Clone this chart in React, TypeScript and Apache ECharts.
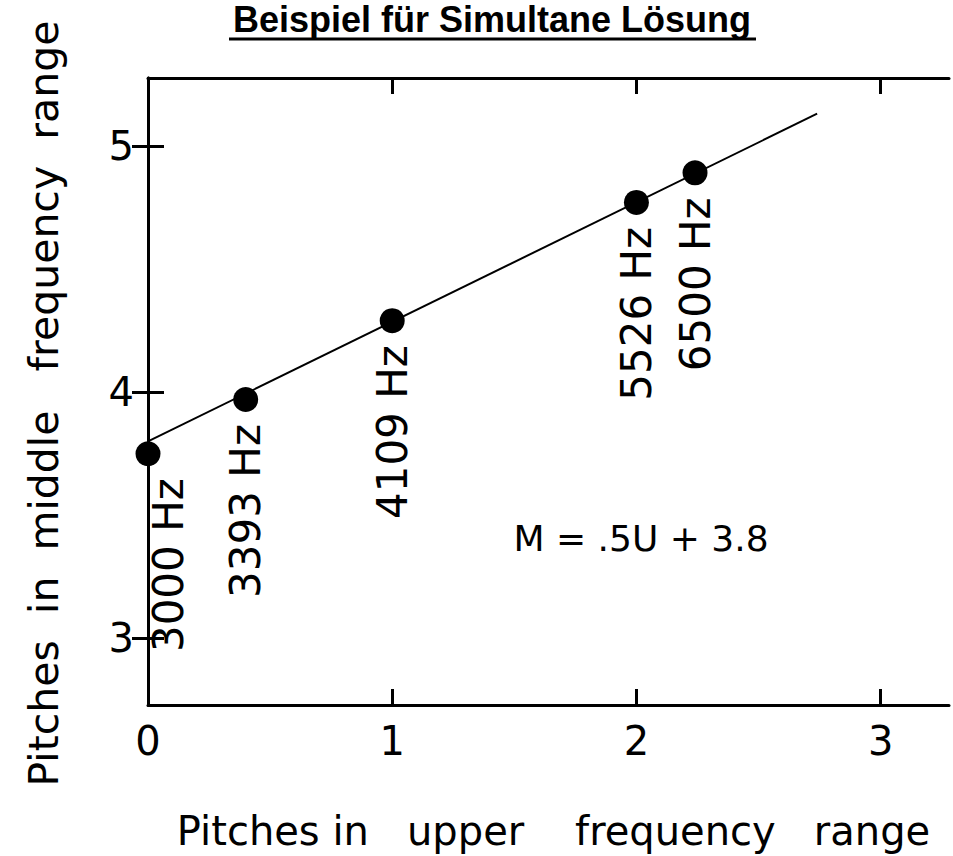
import React, { useEffect, useRef } from 'react';
import * as echarts from 'echarts';

const TITLE = 'Beispiel für Simultane Lösung';
const X_NAME = 'Pitches in   upper    frequency   range';
const Y_NAME = 'Pitches  in  middle   frequency  range';
const EQUATION = 'M = .5U + 3.8';

const X_TICKS = [0, 1, 2, 3];
const Y_TICKS = [3, 4, 5];
const X_MIN = 0;
const X_MAX = 3.28;
const Y_MIN = 2.73;
const Y_MAX = 5.275;

const U_VALUES = [0, 0.4, 1.0, 2.0, 2.24];
const M_VALUES = [3.75, 3.97, 4.29, 4.77, 4.89];
const FREQ_LABELS = ['3000 Hz', '3393 Hz', '4109 Hz', '5526 Hz', '6500 Hz'];

const FIT_U = [0, 2.74];
const FIT_M = [3.8, 5.13];

const FONT = 'DejaVu Sans';
const BLACK = '#000';

export default function App() {
  const ref = useRef<HTMLDivElement>(null);

  useEffect(() => {
    document.body.style.margin = '0';
    if (!ref.current) return;
    const chart = echarts.init(ref.current, undefined, { renderer: 'svg' });

    const axisLine = { show: true, lineStyle: { color: BLACK, width: 3 } };
    const tickStyle = { color: BLACK, width: 3 };

    const option: any = {
      animation: false,
      backgroundColor: '#fff',
      grid: { left: 148, right: 4, top: 78, bottom: 148, containLabel: false },
      xAxis: [
        {
          type: 'value',
          position: 'bottom',
          min: X_MIN,
          max: X_MAX,
          axisLine,
          axisTick: { show: true, inside: true, length: 16, lineStyle: tickStyle, customValues: X_TICKS },
          axisLabel: {
            show: true,
            customValues: X_TICKS,
            margin: 16,
            color: BLACK,
            fontFamily: FONT,
            fontSize: 40,
          },
          splitLine: { show: false },
          name: X_NAME,
          nameLocation: 'middle',
          nameGap: 106,
          nameTextStyle: { color: BLACK, fontFamily: FONT, fontSize: 40, padding: [0, 0, 0, 10] },
        },
        {
          type: 'value',
          position: 'top',
          min: X_MIN,
          max: X_MAX,
          axisLine,
          axisTick: { show: true, inside: true, length: 16, lineStyle: tickStyle, customValues: X_TICKS },
          axisLabel: { show: false },
          splitLine: { show: false },
        },
      ],
      yAxis: [
        {
          type: 'value',
          position: 'left',
          min: Y_MIN,
          max: Y_MAX,
          axisLine,
          axisTick: { show: true, inside: true, length: 16, lineStyle: tickStyle, customValues: Y_TICKS },
          axisLabel: {
            show: true,
            customValues: Y_TICKS,
            margin: 14,
            color: BLACK,
            fontFamily: FONT,
            fontSize: 40,
          },
          splitLine: { show: false },
          name: Y_NAME,
          nameLocation: 'middle',
          nameGap: 84,
          nameTextStyle: { color: BLACK, fontFamily: FONT, fontSize: 41, padding: [0, 24, 0, 0] },
        },
        {
          type: 'value',
          position: 'right',
          min: Y_MIN,
          max: Y_MAX,
          axisLine,
          axisTick: { show: true, inside: true, length: 16, lineStyle: tickStyle, customValues: Y_TICKS },
          axisLabel: { show: false },
          splitLine: { show: false },
        },
      ],
      series: [
        {
          type: 'line',
          xAxisIndex: 0,
          yAxisIndex: 0,
          data: FIT_U.map((u, i) => [u, FIT_M[i]]),
          showSymbol: false,
          symbol: 'none',
          lineStyle: { color: BLACK, width: 2 },
          z: 2,
        },
        {
          type: 'scatter',
          xAxisIndex: 0,
          yAxisIndex: 0,
          symbol: 'circle',
          symbolSize: 25,
          itemStyle: { color: BLACK, opacity: 1 },
          z: 3,
          data: U_VALUES.map((u, i) => ({
            value: [u, M_VALUES[i]],
            label: i === 0 ? { offset: [0, 20] } : undefined,
          })),
          label: {
            show: true,
            position: 'bottom',
            rotate: 90,
            align: 'right',
            verticalAlign: 'middle',
            distance: 12,
            color: BLACK,
            opacity: 1,
            fontFamily: FONT,
            fontSize: 42,
            formatter: (p: any) => FREQ_LABELS[p.dataIndex],
          },
        },
      ],
      graphic: [
        {
          type: 'text',
          x: 492,
          y: 19,
          style: {
            text: TITLE,
            fill: BLACK,
            font: 'bold 36px "Liberation Sans", Arial, sans-serif',
            align: 'center',
            verticalAlign: 'middle',
          },
        },
        {
          type: 'line',
          shape: { x1: 229, y1: 39, x2: 756, y2: 39 },
          style: { stroke: BLACK, lineWidth: 3 },
        },
        {
          type: 'text',
          x: 641,
          y: 538,
          style: {
            text: EQUATION,
            fill: BLACK,
            font: '36px "DejaVu Sans", sans-serif',
            align: 'center',
            verticalAlign: 'middle',
          },
        },
      ],
    };

    chart.setOption(option);
    return () => chart.dispose();
  }, []);

  return <div ref={ref} style={{ width: 953, height: 856 }} />;
}
